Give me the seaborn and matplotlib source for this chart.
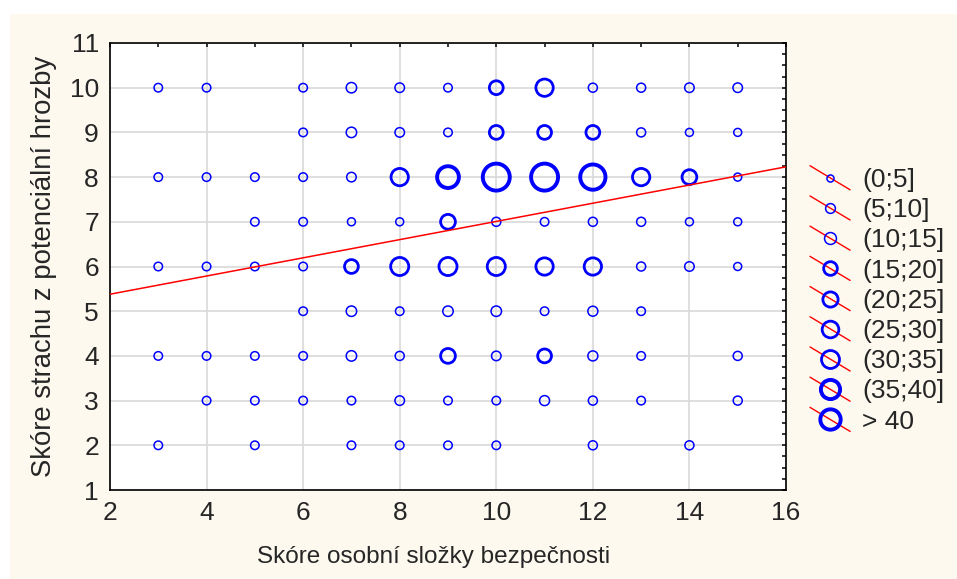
import matplotlib
matplotlib.use("Agg")
import matplotlib.pyplot as plt
import numpy as np
import pandas as pd
import seaborn as sns
from matplotlib.lines import Line2D
from matplotlib.patches import Rectangle
from matplotlib.legend_handler import HandlerBase
from matplotlib.ticker import MultipleLocator

sns.set_style("white")
plt.rcParams['font.family'] = ['Liberation Sans', 'DejaVu Sans']

# bubble data, one row of the grid per line (y score)
score_x = [3, 4, 6, 7, 8, 9, 10, 11, 12, 13, 14, 15,          # y = 10
           6, 7, 8, 9, 10, 11, 12, 13, 14, 15,                # y = 9
           3, 4, 5, 6, 7, 8, 9, 10, 11, 12, 13, 14, 15,       # y = 8
           5, 6, 7, 8, 9, 10, 11, 12, 13, 14, 15,             # y = 7
           3, 4, 5, 6, 7, 8, 9, 10, 11, 12, 13, 14, 15,       # y = 6
           6, 7, 8, 9, 10, 11, 12, 13,                        # y = 5
           3, 4, 5, 6, 7, 8, 9, 10, 11, 12, 13, 15,           # y = 4
           4, 5, 6, 7, 8, 9, 10, 11, 12, 13, 15,              # y = 3
           3, 5, 7, 8, 9, 10, 12, 14]                         # y = 2
score_y = ([10] * 12 + [9] * 10 + [8] * 13 + [7] * 11 + [6] * 13
           + [5] * 8 + [4] * 12 + [3] * 11 + [2] * 8)
n_resp = [5, 5, 5, 9, 7, 5, 18, 30, 6, 6, 7, 7,
          5, 9, 7, 5, 18, 18, 18, 6, 4, 4,
          5, 5, 5, 5, 7, 30, 49, 77, 77, 67, 30, 21, 4,
          5, 5, 4, 4, 21, 6, 5, 6, 6, 4, 4,
          5, 5, 5, 5, 18, 33, 33, 33, 30, 30, 6, 7, 4,
          5, 9, 5, 9, 9, 5, 8, 5,
          5, 5, 5, 5, 9, 6, 21, 7, 18, 8, 5, 6,
          5, 5, 5, 5, 7, 5, 5, 8, 6, 5, 6,
          5, 5, 5, 5, 5, 5, 6, 6]

bin_edges = [0, 5, 10, 15, 20, 25, 30, 35, 40, np.inf]
bin_labels = ['(0;5]', '(5;10]', '(10;15]', '(15;20]', '(20;25]',
              '(25;30]', '(30;35]', '(35;40]', '> 40']
bin_mid = [2.5, 7.5, 12.5, 17.5, 22.5, 27.5, 32.5, 37.5, 42.5]
bin_lw = [1.1, 1.1, 1.1, 2.0, 2.0, 2.0, 2.0, 2.8, 2.8]

# fitted line
line_x = [2, 16]
line_y = [5.38, 8.23]

df = pd.DataFrame({'x': score_x, 'y': score_y, 'n': n_resp})
df['bin'] = pd.cut(df['n'], bin_edges, labels=False)

size_norm = (0, 80)
size_range = (14, 14 + 4.72 * 80)

fig = plt.figure(figsize=(9.57, 5.79), dpi=100)
fig.patch.set_facecolor('white')
fig.add_artist(Rectangle((10 / 957, 0), 1, 1 - 14 / 579, transform=fig.transFigure,
                         facecolor='#fdf9ee', edgecolor='none', zorder=0))
ax = fig.add_axes([110 / 957, 89 / 579, 676 / 957, 447 / 579])
ax.set_facecolor('white')

for b in range(len(bin_labels)):
    sub = df[df['bin'] == b]
    if sub.empty:
        continue
    sns.scatterplot(data=sub, x='x', y='y', size='n', sizes=size_range, size_norm=size_norm,
                    color='blue', facecolor='none', edgecolor='blue', linewidth=bin_lw[b],
                    legend=False, ax=ax, zorder=3)

sns.lineplot(x=line_x, y=line_y, color='red', lw=1.1, ax=ax, zorder=4)

ax.set_xlim(2, 16)
ax.set_ylim(1, 11)
ax.xaxis.set_major_locator(MultipleLocator(2))
ax.xaxis.set_minor_locator(MultipleLocator(1))
ax.yaxis.set_major_locator(MultipleLocator(1))
ax.yaxis.set_minor_locator(MultipleLocator(0.25))
ax.grid(True, which='major', color='#d9d9d9', lw=1.2)
ax.set_axisbelow(True)
ax.tick_params(which='both', direction='in', top=True, right=True, length=3,
               width=1.1, color='black', labelsize=19, pad=8)
for sp in ax.spines.values():
    sp.set_visible(True)
    sp.set_color('black')
    sp.set_linewidth(1.2)

ax.set_xlabel('Skóre osobní složky bezpečnosti', fontsize=17.5, labelpad=15)
ax.xaxis.label.set_x(0.479)
ax.set_ylabel('Skóre strachu z potenciální hrozby', fontsize=19.8, labelpad=9)


class BubbleHandler(HandlerBase):
    def create_artists(self, legend, orig_handle, xdescent, ydescent, width, height,
                       fontsize, trans):
        x0, x1 = -xdescent, width - xdescent
        yc = height / 2 - ydescent
        drop = 0.3 * width
        diag = Line2D([x0, x1], [yc + drop, yc - drop], color='red', lw=1.0, transform=trans)
        ring = Line2D([(x0 + x1) / 2], [yc], marker='o', ls='none',
                      ms=orig_handle.get_markersize(), mfc='none', mec='blue',
                      mew=orig_handle.get_markeredgewidth(), transform=trans)
        return [diag, ring]


handles = []
for m, lw in zip(bin_mid, bin_lw):
    s = size_range[0] + (size_range[1] - size_range[0]) * m / size_norm[1]
    handles.append(Line2D([], [], marker='o', ls='none', ms=np.sqrt(s),
                          mec='blue', mfc='none', mew=lw))

ax.legend(handles, bin_labels, handler_map={Line2D: BubbleHandler()},
          loc='upper left', bbox_to_anchor=(810 / 957, 1 - 168 / 579),
          bbox_transform=fig.transFigure, frameon=False, fontsize=19,
          handlelength=1.52, handletextpad=0.45, labelspacing=0.235, borderpad=0,
          borderaxespad=0)

fig.savefig('out.png', dpi=100, facecolor=fig.get_facecolor())
